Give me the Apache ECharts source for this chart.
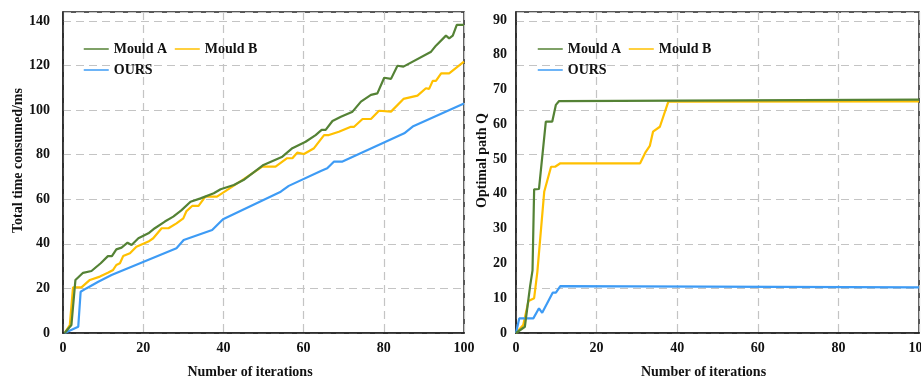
<!DOCTYPE html>
<html>
<head>
<meta charset="utf-8">
<script src="https://cdn.jsdelivr.net/npm/echarts@6/dist/echarts.min.js"></script>
<style>
html,body{margin:0;padding:0;background:#fff;}
#chart{width:921px;height:379px;}
</style>
</head>
<body>
<div id="chart"></div>
<script>
// ---- Data ----
var seriesNames = ['Mould A', 'Mould B', 'OURS'];
var xTicks = [0, 20, 40, 60, 80, 100];
var timeTicks = [0, 20, 40, 60, 80, 100, 120, 140];
var qTicks = [0, 10, 20, 30, 40, 50, 60, 70, 80, 90];

// Left chart: total time consumed (ms) vs iterations
var timeMouldA = [[0.4,0],[2.1,3.6],[3.1,23.8],[5,27],[7.1,27.8],[9.4,31.3],[11.2,34.5],[12.2,34.5],[13.3,37.5],[14.6,38.3],[16.1,40.5],[17.1,39.5],[18.8,42.5],[21.3,44.7],[22.9,47],[25.4,50],[27.5,52.2],[29.5,55],[31.8,58.9],[34.3,60.4],[37.6,62.7],[39.3,64.5],[42.6,66.4],[45,68.6],[50,75.4],[54.7,79.1],[57.2,82.9],[60.5,85.8],[63,88.8],[64.5,91.1],[65.5,91.1],[67.2,95.1],[69.3,97],[72.2,99.3],[74.3,103.8],[76.8,106.8],[78.4,107.5],[80.1,114.5],[81.8,114],[83.4,119.9],[84.9,119.5],[91.8,126.2],[93,128.9],[95.5,133.4],[96.3,132.2],[97.2,133.4],[98.2,138.2],[100,138.2]];
var timeMouldB = [[0.4,0],[1.7,3.6],[2.5,20.5],[4.6,20.5],[6.7,23.8],[9.2,25.3],[11.2,27],[12.5,28.3],[13.3,30.5],[14.2,31.3],[15,34.5],[16.7,35.8],[18.3,38.7],[21.3,41],[22.5,42.5],[24.6,47],[26.3,47],[28.3,49.2],[30,51.4],[30.8,54.7],[32.2,57],[33.8,57],[35.5,61.2],[38.4,61.2],[44.7,68.6],[49.7,74.6],[53,74.6],[55.9,78.4],[57.2,78.4],[58.4,80.9],[60.1,80.3],[62.6,82.9],[65.1,88.8],[66.3,88.8],[68.8,90.3],[71.8,92.5],[72.6,92.5],[74.7,96],[76.8,96],[78.8,99.7],[81.8,99.3],[84.9,105],[88.4,106.5],[90.5,109.8],[91.3,109.5],[92.2,113.1],[93,113.1],[94.3,116.5],[96.3,116.5],[100,121.7]];
var timeOurs = [[0.4,0],[3.8,2.8],[4.4,18.5],[5.8,20],[8.8,23],[12.1,26],[28.3,38],[30.1,41.7],[37.2,46.2],[39.9,51],[54.3,63.4],[56.3,66],[64.3,72.7],[65.9,73.9],[67.6,76.9],[69.7,76.9],[85.1,89.6],[87.2,92.6],[100,103]];

// Right chart: optimal path Q vs iterations
var qMouldA = [[0,0],[2.2,1.8],[3.5,13.5],[4.1,18],[4.5,41.3],[5.7,41.4],[7.4,60.8],[9,60.8],[9.9,65.6],[10.7,66.7],[100,67.1]];
var qMouldB = [[0,0],[1.8,2.3],[3.1,9.2],[4.5,10],[5.3,17.6],[7,40.6],[8.7,47.8],[9.7,47.8],[11,48.8],[30.8,48.8],[32.2,52.1],[33.2,53.8],[34,57.9],[35.7,59.3],[37.8,66.5],[100,66.6]];
var qOurs = [[0,0],[0.8,4.2],[4.3,4.2],[5.7,7.1],[6.5,5.8],[9.1,11.6],[9.9,11.6],[11,13.5],[100,13.1]];

// ---- Styling ----
var colors = {'Mould A': '#548235', 'Mould B': '#FFC000', 'OURS': '#3D9BF5'};
var FONT = '"Liberation Serif", "Times New Roman", serif';
var txt = {fontFamily: FONT, fontWeight: 'bold', fontSize: 14, color: '#111'};
var splitStyle = {show: true, lineStyle: {color: '#c4c4c4', type: [8, 5], width: 1.2}};
var axisLineStyle = {show: true, onZero: false, lineStyle: {color: '#222', width: 1.5}};

function inList(list){ return function(v){ return list.indexOf(v) >= 0 ? String(v) : ''; }; }

function lineSeries(name, data, gi){
  return {
    name: name, type: 'line', data: data,
    xAxisIndex: gi, yAxisIndex: gi,
    showSymbol: false, symbol: 'none', animation: false,
    lineStyle: {color: colors[name], width: 2.2},
    itemStyle: {color: colors[name]}
  };
}

var grids = [
  {left: 63, top: 12, width: 401, height: 321, show: true, borderColor: '#222', borderWidth: 1.5,
   containLabel: false, outerBoundsMode: 'none'},
  {left: 516, top: 12, width: 403, height: 321, show: true, borderColor: '#222', borderWidth: 1.5,
   containLabel: false, outerBoundsMode: 'none'}
];

function xAxis(gi, shiftPad){
  return {
    type: 'value', gridIndex: gi, min: 0, max: 100, interval: 20,
    name: 'Number of iterations', nameLocation: 'middle', nameGap: 32,
    nameTextStyle: Object.assign({}, txt, {padding: [0, shiftPad, 0, 0]}),
    axisLine: axisLineStyle, axisTick: {show: false},
    axisLabel: Object.assign({}, txt, {formatter: inList(xTicks), margin: 8}),
    splitLine: splitStyle
  };
}

function legend(left){
  return {left: left, top: 37, width: 185, itemWidth: 25, itemHeight: 14, itemGap: 7,
    data: seriesNames, textStyle: txt, lineStyle: {width: 1.5},
    itemStyle: {opacity: 0, borderWidth: 0}, selectedMode: false};
}

var option = {
  animation: false,
  backgroundColor: '#fff',
  grid: grids,
  legend: [legend(78), legend(532)],
  xAxis: [xAxis(0, 27), xAxis(1, 28)],
  yAxis: [
    {type: 'value', gridIndex: 0, min: 0, max: 144, interval: 20,
     name: 'Total time consumed/ms', nameLocation: 'middle', nameGap: 38,
     nameTextStyle: Object.assign({}, txt, {padding: [0, 0, 0, 24]}),
     axisLine: axisLineStyle, axisTick: {show: false},
     axisLabel: Object.assign({}, txt, {formatter: inList(timeTicks), margin: 13}),
     splitLine: splitStyle},
    {type: 'value', gridIndex: 1, min: 0, max: 92.3, interval: 10,
     name: 'Optimal path Q', nameLocation: 'middle', nameGap: 27,
     nameTextStyle: Object.assign({}, txt, {padding: [0, 0, 0, 24]}),
     axisLine: axisLineStyle, axisTick: {show: false},
     axisLabel: Object.assign({}, txt, {formatter: inList(qTicks), margin: 9}),
     splitLine: {show: false}},
    // gridline-only axis for the right panel (its dashed lines sit at the left panel's spacing)
    {type: 'value', gridIndex: 1, min: 0, max: 144, interval: 20, position: 'right',
     axisLine: {show: false}, axisTick: {show: false}, axisLabel: {show: false},
     splitLine: splitStyle}
  ],
  series: [
    lineSeries('Mould B', timeMouldB, 0),
    lineSeries('OURS', timeOurs, 0),
    lineSeries('Mould A', timeMouldA, 0),
    lineSeries('Mould B', qMouldB, 1),
    lineSeries('OURS', qOurs, 1),
    lineSeries('Mould A', qMouldA, 1)
  ]
};

var chart = echarts.init(document.getElementById('chart'), null, {renderer: 'canvas'});
chart.setOption(option);
</script>
</body>
</html>
